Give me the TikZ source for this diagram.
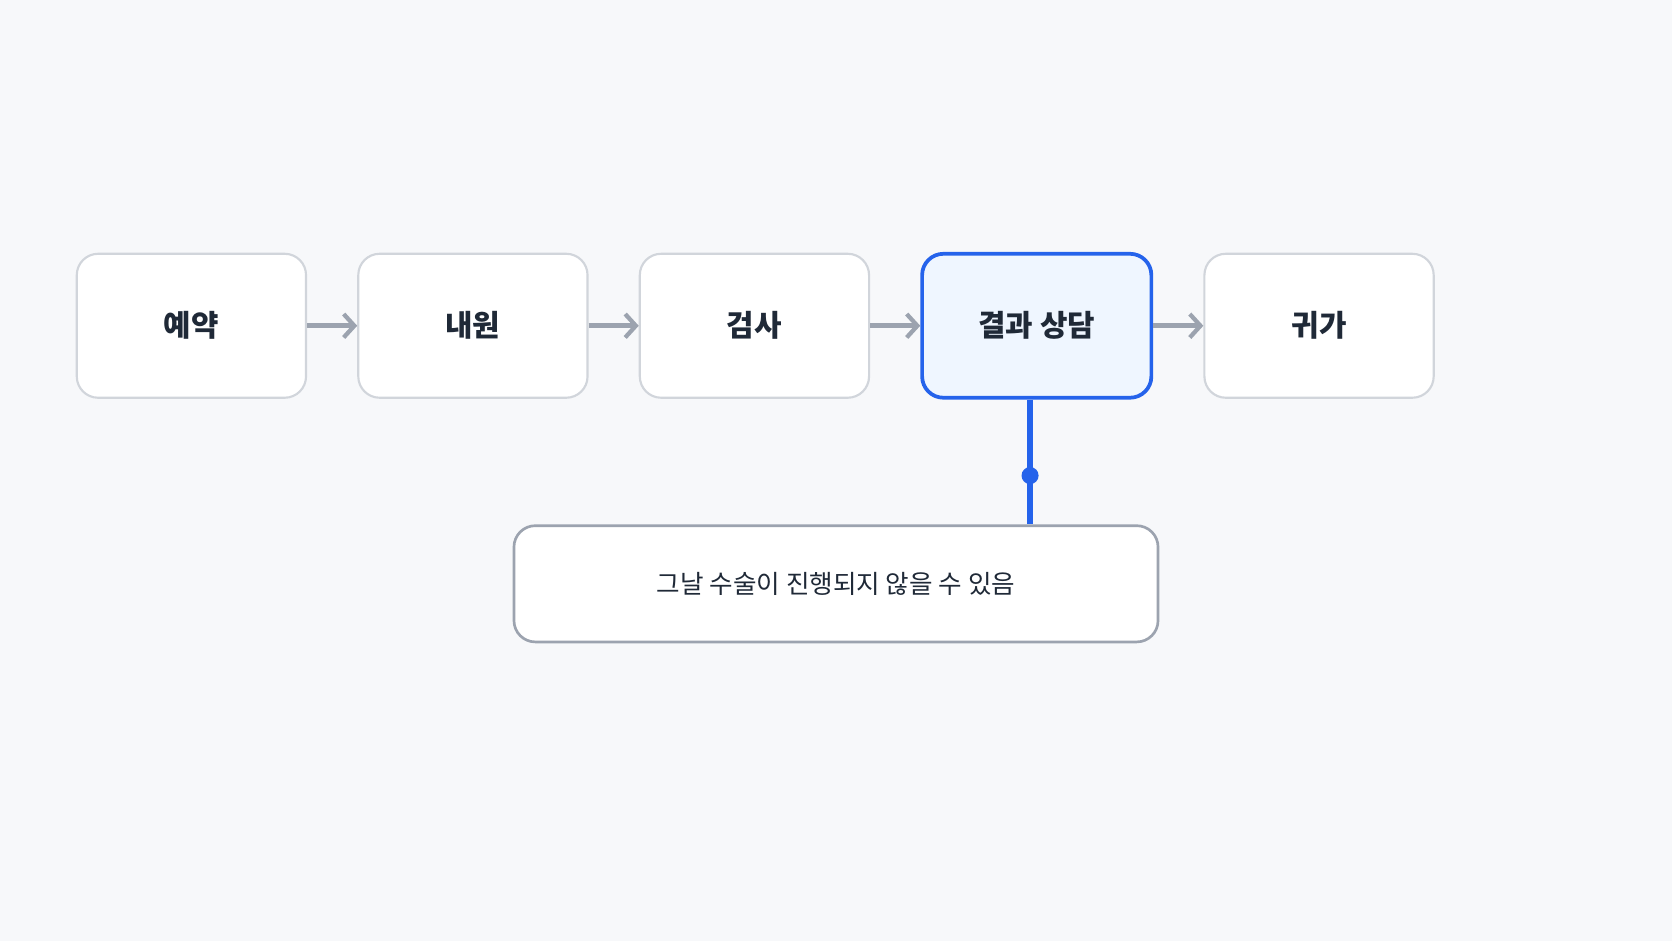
\documentclass[tikz,border=0pt]{standalone}
\usepackage{fontspec}
\setmainfont{Noto Sans CJK KR}
\usetikzlibrary{arrows.meta,positioning}
\definecolor{bgcol}{HTML}{F7F8FA}
\definecolor{stepline}{HTML}{D1D5DB}
\definecolor{arrowgray}{HTML}{9CA3AF}
\definecolor{focusblue}{HTML}{2563EB}
\definecolor{focusfill}{HTML}{EFF6FF}
\definecolor{textcol}{HTML}{1F2937}
\tikzset{
  stage/.style={draw=stepline, line width=2pt, fill=white, rounded corners=20pt,
    minimum width=215pt, minimum height=135pt, inner sep=0pt,
    font=\fontsize{28}{32}\selectfont\bfseries, text=textcol},
  focus/.style={stage, draw=focusblue, line width=3.5pt, fill=focusfill},
  note/.style={draw=arrowgray, line width=2.5pt, fill=white, rounded corners=20pt,
    minimum width=604pt, minimum height=109pt, inner sep=0pt,
    font=\fontsize{24}{28}\selectfont, text=textcol},
  flow/.style={draw=arrowgray, line width=5pt, -{Straight Barb[length=10pt,width=22pt,line width=4pt]}},
}
\begin{document}
\begin{tikzpicture}[x=1pt,y=-1pt]
\useasboundingbox[fill=bgcol] (0,0) rectangle (1568,882);
%% Steps
\node[stage] (reserve) at (179.5,305.5) {예약};
\node[stage, right=47pt of reserve] (visit) {내원};
\node[stage, right=47pt of visit] (exam) {검사};
\node[focus, right=47pt of exam] (consult) {결과 상담};
\node[stage, right=47pt of consult] (home) {귀가};
%% Flow
\draw[flow] (reserve) -- (visit);
\draw[flow] (visit) -- (exam);
\draw[flow] (exam) -- (consult);
\draw[flow] (consult) -- (home);
%% Note
\node[note] (caution) at (784,547.5) {그날 수술이 진행되지 않을 수 있음};
\coordinate (joint) at (966,446);
\draw[focusblue, line width=5pt] (consult.south -| joint) -- (caution.north -| joint);
\fill[focusblue] (joint) circle (8pt);
\end{tikzpicture}
\end{document}
